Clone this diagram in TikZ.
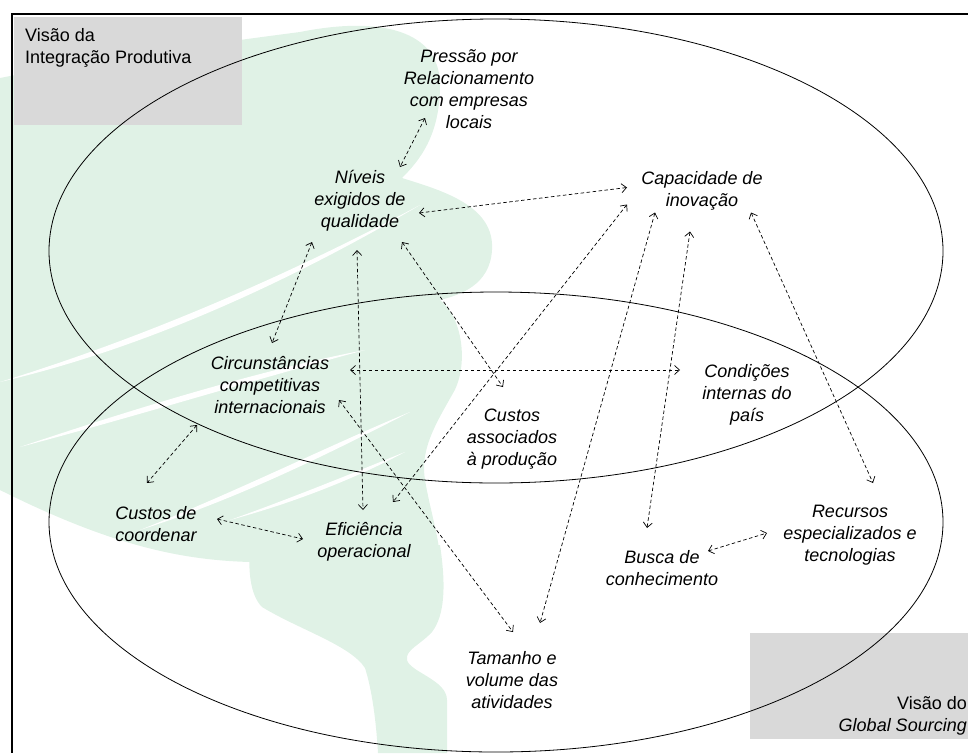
\documentclass[tikz,border=0pt]{standalone}
\usepackage{fontspec}
\setmainfont{Liberation Sans}
\usetikzlibrary{arrows.meta,calc}
\definecolor{boxgray}{RGB}{217,217,217}
\definecolor{wm}{RGB}{224,242,230}
\begin{document}
\begin{tikzpicture}[x=1pt,y=-1pt,
  lbl/.style={font=\fontsize{18}{22}\selectfont\itshape, align=center, inner sep=0pt},
  boxlbl/.style={font=\fontsize{18}{22}\selectfont, inner sep=0pt},
  rel/.style={<->, >={Straight Barb[length=5pt,width=9pt,line width=0.7pt]}, dash pattern=on 3.5pt off 2.5pt, line width=0.7pt},
  streak/.style={fill=white, draw=none}
  ]
\useasboundingbox (0,0) rectangle (968,753);
% watermark: main canopy
\fill[wm] (0,78) .. controls (80,62) and (200,45) .. (300,32)
  .. controls (380,16) and (440,30) .. (440,85)
  .. controls (440,135) and (420,160) .. (402,178)
  .. controls (440,190) and (495,205) .. (492,250)
  .. controls (490,285) and (460,295) .. (440,300)
  .. controls (465,320) and (468,370) .. (452,395)
  .. controls (435,425) and (420,450) .. (425,480)
  .. controls (430,510) and (440,540) .. (440,562)
  -- (250,562)
  .. controls (180,560) and (110,545) .. (0,490) -- cycle;
% watermark: lower zigzag tail
\fill[wm] (250,545) -- (440,545)
  .. controls (446,585) and (445,615) .. (432,632)
  .. controls (420,645) and (405,650) .. (407,660)
  .. controls (410,672) and (447,680) .. (447,700)
  -- (447,753) -- (378,753)
  .. controls (376,720) and (372,690) .. (365,668)
  .. controls (350,645) and (300,630) .. (262,607)
  .. controls (250,595) and (248,570) .. (250,545) -- cycle;
% white streaks
\fill[streak] (0,382) .. controls (120,345) and (260,290) .. (420,205)
  .. controls (260,299) and (120,354) .. (0,382) -- cycle;
\fill[streak] (20,447) .. controls (130,410) and (260,370) .. (365,350)
  .. controls (260,378) and (130,418) .. (20,447) -- cycle;
\fill[streak] (140,530) .. controls (240,490) and (330,445) .. (410,412)
  .. controls (330,453) and (240,498) .. (140,530) -- cycle;
\fill[streak] (230,520) .. controls (300,495) and (360,470) .. (405,452)
  .. controls (360,476) and (300,501) .. (230,520) -- cycle;
% grey boxes
\fill[boxgray] (14,17) rectangle (242,125);
\fill[boxgray] (750,633) rectangle (968,739);
% ellipses
\draw[line width=0.8pt] (496,251) ellipse [x radius=447pt, y radius=232pt];
\draw[line width=0.8pt] (496,522) ellipse [x radius=447pt, y radius=230pt];
% frame (right and bottom sides lie outside the picture)
\draw[line width=2.5pt] (968,14) -- (12,14) -- (12,753);

\node[boxlbl, align=left, anchor=north west] (tl) at (25,28.5) {Visão da\\Integração Produtiva};
\node[boxlbl, align=right, anchor=south east] (br) at (967,735) {Visão do\\\textit{Global Sourcing}};

\node[lbl] (pre) at (469,89.5) {Pressão por\\Relacionamento\\com empresas\\locais};
\node[lbl] (niv) at (360,201) {Níveis\\exigidos de\\qualidade};
\node[lbl] (cap) at (702,190.5) {Capacidade de\\inovação};
\node[lbl] (cir) at (270,385) {Circunstâncias\\competitivas\\internacionais};
\node[lbl] (con) at (747,395) {Condições\\internas do\\país};
\node[lbl] (cas) at (512,439) {Custos\\associados\\à produção};
\node[lbl] (ccd) at (156,524) {Custos de\\coordenar};
\node[lbl] (efi) at (364,542) {Eficiência\\operacional};
\node[lbl] (bus) at (662,568) {Busca de\\conhecimento};
\node[lbl] (rec) at (850,535) {Recursos\\especializados e\\tecnologias};
\node[lbl] (tam) at (512,680) {Tamanho e\\volume das\\atividades};

\draw[rel] ($(pre)+(-44,28.5)$) -- ($(niv)+(40,-34)$);
\draw[rel] ($(niv)+(59,12)$) -- ($(cap)+(-75,-3)$);
\draw[rel] ($(niv)+(-48,41)$) -- ($(cir)+(2,-42)$);
\draw[rel] ($(niv)+(-3,49)$) -- ($(efi)+(-1,-32)$);
\draw[rel] ($(niv)+(42,41)$) -- ($(cas)+(-9,-52)$);
\draw[rel] ($(cap)+(-75,14)$) -- ($(efi)+(29,-40)$);
\draw[rel] ($(cap)+(-47,22)$) -- ($(tam)+(28,-57)$);
\draw[rel] ($(cap)+(-12,41)$) -- ($(bus)+(-15,-40)$);
\draw[rel] ($(cap)+(49,22)$) -- ($(rec)+(23,-52)$);
\draw[rel] ($(cir)+(80,-15)$) -- ($(con)+(-67,-25)$);
\draw[rel] ($(cir)+(-73,40)$) -- ($(ccd)+(-9,-41)$);
\draw[rel] ($(cir)+(69,15)$) -- ($(tam)+(1,-48)$);
\draw[rel] ($(ccd)+(61,-5)$) -- ($(efi)+(-61,-3)$);
\draw[rel] ($(bus)+(46,-17)$) -- ($(rec)+(-83,-2)$);
\end{tikzpicture}
\end{document}
